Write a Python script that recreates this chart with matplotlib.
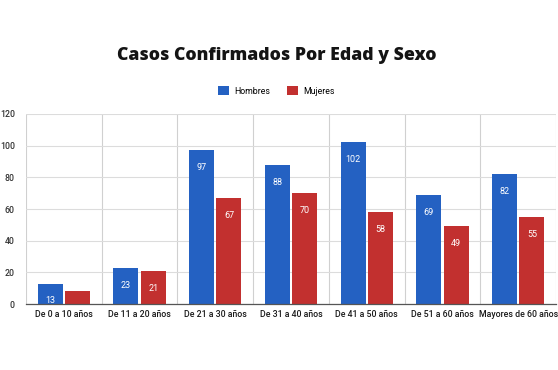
import matplotlib.pyplot as plt
import numpy as np

# Datos del grafico
categorias = ["De 0 a 10 años", "De 11 a 20 años", "De 21 a 30 años", "De 31 a 40 años",
              "De 41 a 50 años", "De 51 a 60 años", "Mayores de 60 años"]
hombres = [13, 23, 97, 88, 102, 69, 82]
mujeres = [8, 21, 67, 70, 58, 49, 55]
yticks = [0, 20, 40, 60, 80, 100, 120]

azul = "#2461c2"
rojo = "#c2302f"

fig = plt.figure(figsize=(5.58, 3.70), dpi=100)
ax = fig.add_axes([0.0466, 0.178, 0.95, 0.514])

x = np.arange(len(categorias))
w = 0.33
off = 0.18
b1 = ax.bar(x - off, hombres, w, color=azul, zorder=3)
b2 = ax.bar(x + off, mujeres, w, color=rojo, zorder=3)

# etiquetas blancas dentro de las barras
for bars, vals in ((b1, hombres), (b2, mujeres)):
    for bar, v in zip(bars, vals):
        if v < 10:
            continue
        y = v - 11 if v > 20 else v / 2 - 4
        ax.text(bar.get_x() + bar.get_width() / 2, y, str(v), ha="center", va="center",
                color="white", fontsize=6.5, family="Roboto", zorder=4)

ax.set_xlim(-0.5, len(categorias) - 0.5)
ax.set_ylim(0, 120)
ax.set_yticks(yticks)
ax.set_xticks(x)
ax.set_xticklabels(categorias, fontsize=6.3, family="Roboto", fontweight="medium", color="#1a1a1a")
ax.tick_params(axis="y", labelsize=6.3, length=0, pad=8, labelcolor="#333333")
ax.tick_params(axis="x", length=0, pad=4)
for lab in ax.get_yticklabels():
    lab.set_family("Roboto")
    lab.set_fontweight("medium")

# rejilla horizontal y separadores verticales
ax.grid(axis="y", color="#dcdcdc", linewidth=0.8, zorder=0)
for b in np.arange(-0.5, len(categorias), 1.0):
    ax.axvline(b, color="#d0d0d0", linewidth=0.8, zorder=0)
for s in ["top", "right", "left"]:
    ax.spines[s].set_visible(False)
ax.spines["bottom"].set_color("#555555")
ax.spines["bottom"].set_linewidth(0.9)
ax.spines["bottom"].set_zorder(5)

fig.text(0.496, 0.85, "Casos Confirmados Por Edad y Sexo", ha="center", va="center",
         fontsize=12.7, fontweight="heavy", family="Open Sans", color="#141414")

leg = fig.legend([b1, b2], ["Hombres", "Mujeres"], loc="center", bbox_to_anchor=(0.495, 0.755),
                 ncol=2, frameon=False, handlelength=1.2, handleheight=1.3,
                 columnspacing=2.0, handletextpad=0.6, prop={"family": "Roboto", "size": 6.3})

fig.savefig("out.png", dpi=100)
